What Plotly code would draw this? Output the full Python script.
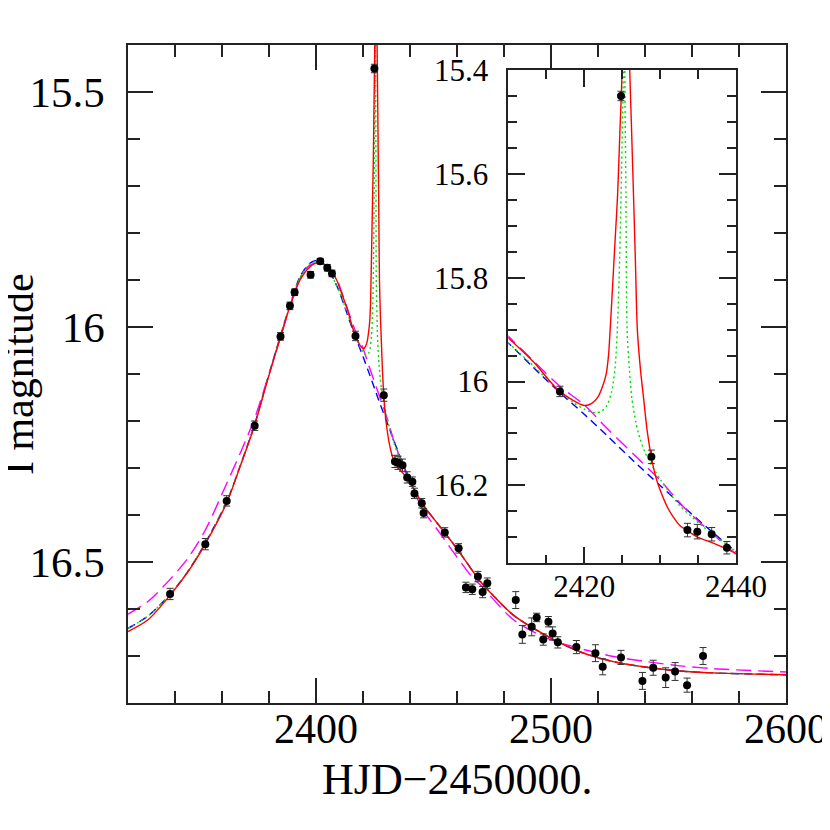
import plotly.graph_objects as go

# ---------------------------------------------------------------------------
# Observed I-band photometry (HJD-2450000, mag, error)
# ---------------------------------------------------------------------------
t_obs = [2337.9, 2352.9, 2362.0, 2373.9, 2384.9, 2388.9, 2390.9, 2397.7, 2401.8,
         2404.8, 2406.8, 2416.8, 2424.85, 2428.85, 2433.6, 2434.9, 2436.8, 2438.8,
         2441.0, 2441.9, 2445.0, 2445.8, 2454.8, 2460.7, 2463.8, 2466.5, 2468.9,
         2470.9, 2472.9, 2485.0, 2487.8, 2491.8, 2493.9, 2496.7, 2498.9, 2500.7,
         2502.9, 2510.8, 2518.9, 2522.0, 2529.8, 2538.9, 2543.5, 2548.8, 2552.8,
         2557.9, 2564.7]
m_obs = [16.568, 16.462, 16.370, 16.210, 16.020, 15.955, 15.926, 15.889, 15.860,
         15.874, 15.886, 16.019, 15.450, 16.145, 16.286, 16.289, 16.294, 16.320,
         16.329, 16.354, 16.375, 16.396, 16.437, 16.471, 16.554, 16.558, 16.531,
         16.564, 16.545, 16.581, 16.654, 16.638, 16.618, 16.665, 16.627, 16.652,
         16.671, 16.681, 16.694, 16.723, 16.703, 16.753, 16.725, 16.746, 16.733,
         16.762, 16.700]
e_obs = [0.012, 0.012, 0.011, 0.010, 0.008, 0.008, 0.007, 0.007, 0.006,
         0.007, 0.007, 0.010, 0.009, 0.013, 0.013, 0.014, 0.013, 0.012,
         0.010, 0.011, 0.010, 0.010, 0.010, 0.010, 0.011, 0.011, 0.011,
         0.012, 0.011, 0.018, 0.019, 0.019, 0.009, 0.012, 0.011, 0.014,
         0.012, 0.014, 0.018, 0.017, 0.015, 0.018, 0.016, 0.021, 0.019,
         0.015, 0.018]

# ---------------------------------------------------------------------------
# Model curves
# ---------------------------------------------------------------------------
# single lens, short dashes (blue)
blue_t = [2320, 2328.5, 2337.7, 2345.5, 2352.6, 2362, 2367.7, 2373.9, 2379, 2385,
          2389, 2393.2, 2397, 2399.6, 2402, 2404.6, 2407, 2410, 2413.3, 2416.7,
          2420, 2423, 2426.5, 2430, 2433, 2436.5, 2440, 2445.7, 2452.8, 2459.9,
          2466.9, 2470, 2484, 2498.2, 2512.3, 2526.5, 2540.7, 2554.9, 2569.1, 2600]
blue_m = [16.641, 16.615, 16.570, 16.520, 16.462, 16.372, 16.296, 16.207, 16.117, 16.017,
          15.952, 15.893, 15.866, 15.859, 15.862, 15.872, 15.893, 15.926, 15.973, 16.020,
          16.063, 16.104, 16.153, 16.200, 16.240, 16.285, 16.327, 16.379, 16.425, 16.471,
          16.521, 16.542, 16.613, 16.657, 16.691, 16.712, 16.724, 16.732, 16.736, 16.740]

# single lens, long dashes (magenta)
magenta_t = [2320, 2328.5, 2337.7, 2345.5, 2352.9, 2362, 2367.7, 2373.9, 2379, 2385,
             2389, 2393.2, 2397, 2401, 2404.6, 2408.8, 2410, 2413.3, 2416.7, 2420,
             2423, 2426.5, 2430, 2433, 2436.5, 2440, 2445.7, 2452.8, 2459.9, 2466.9,
             2470, 2484, 2498.2, 2512.3, 2526.5, 2540.7, 2554.9, 2569.1, 2600]
magenta_m = [16.611, 16.584, 16.538, 16.492, 16.432, 16.333, 16.269, 16.194, 16.116, 16.020,
             15.955, 15.897, 15.870, 15.864, 15.872, 15.897, 15.913, 15.960, 16.008, 16.045,
             16.090, 16.140, 16.190, 16.240, 16.288, 16.332, 16.390, 16.439, 16.489, 16.535,
             16.549, 16.623, 16.662, 16.684, 16.701, 16.712, 16.721, 16.727, 16.734]

# binary lens, dotted (green)
green_t = [2320, 2328.5, 2337.7, 2345.5, 2352.6, 2362, 2367.7, 2373.9, 2379, 2385,
           2389, 2393.2, 2397, 2400, 2403, 2406, 2410, 2413.3, 2416.7, 2418.5,
           2420, 2421, 2421.6, 2422.3, 2423, 2423.6, 2424.06, 2424.36, 2424.6, 2424.85,
           2425.15, 2425.25, 2425.35, 2425.5, 2425.65, 2425.95, 2426.26, 2426.8, 2427.35, 2428,
           2428.67, 2430, 2431.3, 2432.6, 2435.3, 2437.5, 2440, 2445.7, 2452.8, 2459.9,
           2466.9, 2470, 2484, 2498.2, 2512.3, 2526.5, 2540.7, 2554.9, 2569.1, 2600]
green_m = [16.641, 16.615, 16.570, 16.520, 16.462, 16.372, 16.296, 16.207, 16.117, 16.017,
           15.953, 15.895, 15.867, 15.861, 15.866, 15.884, 15.926, 15.970, 16.018, 16.040,
           16.053, 16.059, 16.060, 16.057, 16.046, 16.020, 15.975, 15.900, 15.800, 15.644,
           15.400, 15.000, 15.400, 15.644, 15.900, 15.975, 16.030, 16.078, 16.110, 16.136,
           16.155, 16.188, 16.215, 16.239, 16.275, 16.300, 16.327, 16.379, 16.425, 16.471,
           16.521, 16.542, 16.613, 16.657, 16.691, 16.712, 16.724, 16.732, 16.736, 16.740]

# binary lens, solid (red)
red_t = [2320, 2328.5, 2337.7, 2345.5, 2352.6, 2362, 2367.7, 2373.9, 2379, 2385,
         2389, 2393.2, 2397.4, 2401, 2404.6, 2408.8, 2410, 2413.3, 2416.7, 2420,
         2421, 2421.8, 2422.4, 2422.9, 2423.2, 2423.4, 2423.8, 2424.1, 2424.4, 2424.7,
         2425.0, 2425.3, 2425.5, 2425.7, 2426.0, 2426.25, 2426.5, 2426.75, 2427.0, 2427.4,
         2427.8, 2428.3, 2428.84, 2429.4, 2430, 2431, 2431.7, 2432.6, 2433.5, 2435,
         2437, 2440, 2445.7, 2452.8, 2459.9, 2466.9, 2470, 2484, 2498.2, 2512.3,
         2526.5, 2540.7, 2554.9, 2569.1, 2600]
red_m = [16.648, 16.623, 16.572, 16.521, 16.464, 16.374, 16.297, 16.209, 16.120, 16.019,
         15.955, 15.900, 15.872, 15.863, 15.870, 15.900, 15.916, 15.962, 16.018, 16.046,
         16.042, 16.030, 16.010, 15.985, 15.950, 15.905, 15.800, 15.720, 15.640, 15.520,
         15.400, 15.200, 15.100, 15.200, 15.400, 15.520, 15.644, 15.770, 15.900, 15.975,
         16.029, 16.095, 16.145, 16.182, 16.209, 16.243, 16.260, 16.277, 16.286, 16.300,
         16.311, 16.331, 16.379, 16.425, 16.471, 16.521, 16.542, 16.613, 16.657, 16.691,
         16.712, 16.724, 16.732, 16.736, 16.740]

FONT = 'Liberation Serif'
INK = '#222222'
curves = [
    (blue_t, blue_m, '#0000ff', '8px,5px'),
    (magenta_t, magenta_m, '#ff00ff', '15px,7px'),
    (green_t, green_m, '#00e000', '2px,3px'),
    (red_t, red_m, '#ff0000', 'solid'),
]

fig = go.Figure()
for (xa, ya) in (('x', 'y'), ('x2', 'y2')):
    for (t, m, col, dash) in curves:
        fig.add_trace(go.Scatter(
            x=t, y=m, mode='lines', xaxis=xa, yaxis=ya,
            line=dict(color=col, width=1.4, dash=dash, shape='spline', smoothing=0.8),
            showlegend=False, hoverinfo='skip'
        ))
    fig.add_trace(go.Scatter(
        x=t_obs, y=m_obs, mode='markers', xaxis=xa, yaxis=ya,
        marker=dict(color='black', size=8),
        error_y=dict(type='data', array=e_obs, visible=True,
                     color='#333333', thickness=1, width=3.5),
        showlegend=False
    ))


def minor(step, length):
    return dict(dtick=step, ticklen=length, ticks='inside', tickcolor=INK, tickwidth=1.5)


axis_common = dict(
    showline=True, linecolor=INK, linewidth=1.5, mirror='ticks',
    ticks='inside', tickcolor=INK, tickwidth=1.5,
    showgrid=False, zeroline=False, automargin=False,
)
# the page body adds an 8 px offset, so margins are shifted by 8 px
fig.update_layout(
    width=830, height=830,
    margin=dict(l=120, r=52, t=37, b=135),
    paper_bgcolor='white', plot_bgcolor='rgba(0,0,0,0)',
    font=dict(family=FONT, color='black'),
    xaxis=dict(
        **axis_common, range=[2320, 2600], domain=[0, 1], anchor='y',
        tick0=2400, dtick=100, ticklen=25, minor=minor(20, 12),
        tickfont=dict(size=42, family=FONT), ticklabelstandoff=-12,
    ),
    yaxis=dict(
        **axis_common, range=[16.8, 15.4], domain=[0, 1], anchor='x',
        tick0=15.5, dtick=0.5, ticklen=25, minor=minor(0.1, 12),
        tickfont=dict(size=43, family=FONT), ticklabelstandoff=13,
    ),
    xaxis2=dict(
        **axis_common, range=[2410, 2440], domain=[0.578, 0.924], anchor='y2',
        tick0=2400, dtick=20, ticklen=17, minor=minor(5, 9),
        tickfont=dict(size=31, family=FONT), ticklabelstandoff=-5,
    ),
    yaxis2=dict(
        **axis_common, range=[16.35, 15.4], domain=[0.2123, 0.962], anchor='x2',
        tick0=15.4, dtick=0.2, ticklen=17, minor=minor(0.05, 9),
        tickfont=dict(size=31, family=FONT), ticklabelstandoff=12,
    ),
    annotations=[
        dict(text='HJD\u22122450000.', xref='paper', yref='paper', x=0.5, y=-0.116,
             xanchor='center', yanchor='middle', showarrow=False,
             font=dict(size=44, family=FONT)),
        dict(text='I magnitude', xref='paper', yref='paper', x=-0.1655, y=0.5,
             xanchor='center', yanchor='middle', showarrow=False, textangle=-90,
             font=dict(size=42, family=FONT)),
    ],
)

fig.write_html("out.html")
